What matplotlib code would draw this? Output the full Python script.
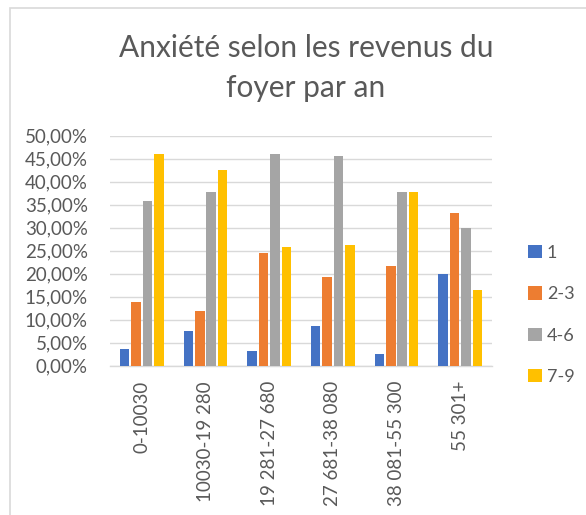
import matplotlib
matplotlib.use("Agg")
import matplotlib.pyplot as plt
import numpy as np
from matplotlib.patches import Rectangle
from matplotlib.ticker import FuncFormatter, MultipleLocator

plt.rcParams['font.family'] = ['Lato', 'DejaVu Sans']

# revenue brackets and anxiety levels
categories = ["0-10030", "10030-19 280", "19 281-27 680", "27 681-38 080", "38 081-55 300", "55 301+"]
series_names = ["1", "2-3", "4-6", "7-9"]
vals_1 = [3.7, 7.5, 3.3, 8.6, 2.5, 19.9]
vals_2_3 = [13.8, 12.0, 24.6, 19.2, 21.7, 33.1]
vals_4_6 = [35.9, 37.8, 46.1, 45.6, 37.8, 29.9]
vals_7_9 = [46.1, 42.5, 25.7, 26.2, 37.8, 16.4]

colors = ["#4472C4", "#ED7D31", "#A5A5A5", "#FFC000"]
text_col = "#595959"

fig = plt.figure(figsize=(5.86, 5.15), dpi=100)
ax = fig.add_axes([110 / 586, 1 - 365.7 / 515, 382 / 586, 230 / 515])

x = np.arange(len(categories))
step = 0.179
width = 0.149
all_series = [vals_1, vals_2_3, vals_4_6, vals_7_9]
for i, (vals, name, c) in enumerate(zip(all_series, series_names, colors)):
    ax.bar(x + (i - 1.5) * step, vals, width=width, color=c, label=name, zorder=3)

ax.set_xlim(-0.5, len(categories) - 0.5)
ax.set_ylim(0, 50)
ax.yaxis.set_major_locator(MultipleLocator(5))
ax.yaxis.set_major_formatter(FuncFormatter(lambda v, p: f"{v:.2f}%".replace(".", ",")))
ax.grid(axis='y', color="#D9D9D9", linewidth=1, zorder=0)
for s in ["top", "right", "left"]:
    ax.spines[s].set_visible(False)
ax.spines["bottom"].set_color("#D9D9D9")
ax.spines["bottom"].set_linewidth(1)
ax.tick_params(axis='both', length=0, colors=text_col, labelsize=13.5)
ax.tick_params(axis='y', pad=16)
ax.tick_params(axis='x', pad=11)
ax.set_xticks(x)
ax.set_xticklabels(categories, rotation=90, va='top', ha='center')

fig.text(306 / 586, 1 - 68 / 515, "Anxiété selon les revenus du\nfoyer par an", ha='center', va='center',
         fontsize=21.5, color=text_col, linespacing=1.5)

leg = fig.legend(loc='center left', bbox_to_anchor=(528 / 586, 1 - 315 / 515), frameon=False,
                 fontsize=13, labelcolor=text_col, handlelength=0.75, handleheight=0.75,
                 handletextpad=0.3, labelspacing=1.4, borderpad=0, borderaxespad=0)

fig.add_artist(Rectangle((10 / 586, -0.1), 2, 1 - 7.5 / 515 + 0.1, transform=fig.transFigure,
                         fill=False, edgecolor="#D9D9D9", linewidth=1.2))

fig.savefig("out.png", dpi=100)
